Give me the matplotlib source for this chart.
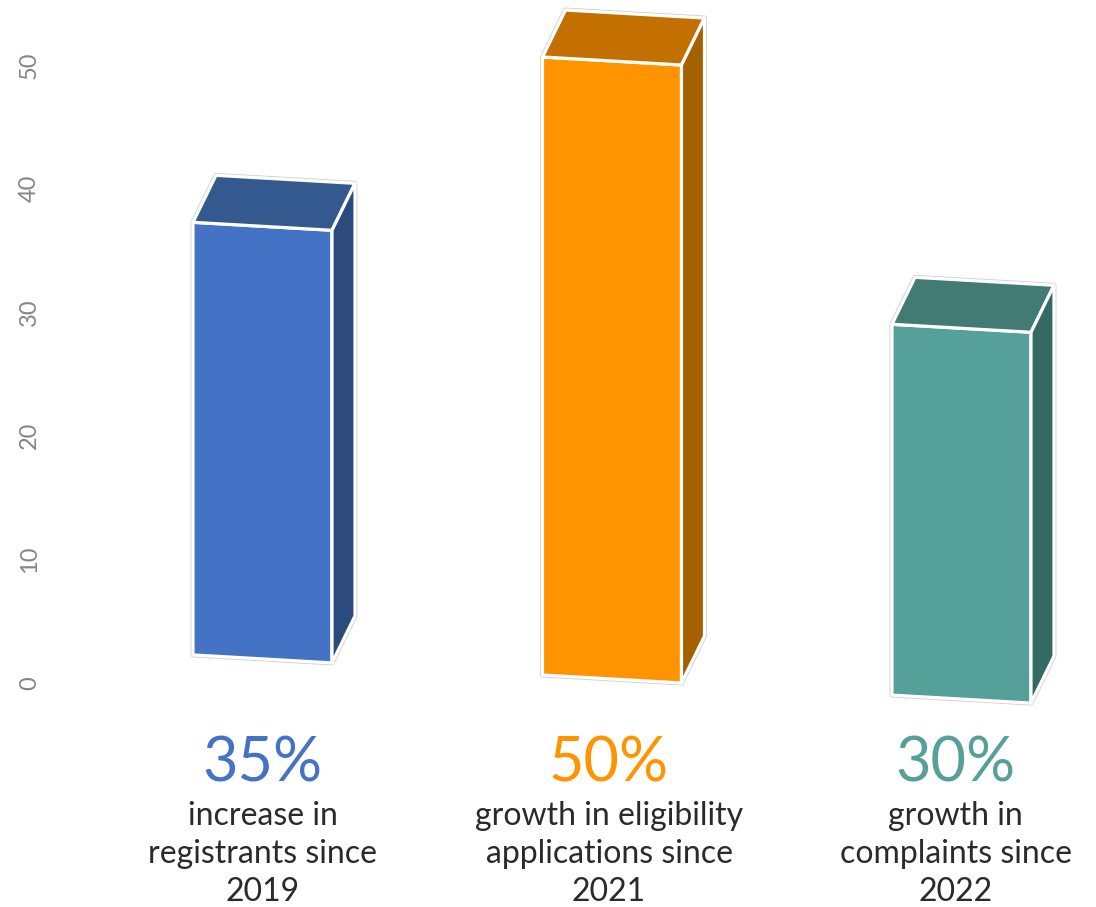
import matplotlib.pyplot as plt
from matplotlib.patches import Polygon

values = [35, 50, 30]
pct_labels = ["35%", "50%", "30%"]
descriptions = [
	"increase in\nregistrants since\n2019",
	"growth in eligibility\napplications since\n2021",
	"growth in\ncomplaints since\n2022",
]
front_colors = ["#4472C4", "#FF9400", "#55A099"]
top_colors = ["#33598F", "#C47000", "#417B74"]
side_colors = ["#2B4A7D", "#A56000", "#356A63"]
yticks = [0, 10, 20, 30, 40, 50]

# layout (x in pixels, y in value units)
PX_PER_UNIT = 12.36
ZERO_PX = 683
first_left = 193
spacing = 349.5
width = 139
depth_dx = 23
depth_dv = 3.8


def shear(x):
	return 3.17 - 0.00465 * x


def pt(x, v):
	return (x, v + shear(x))


def to_val(py):
	return (ZERO_PX - py) / PX_PER_UNIT


def main():
	fig = plt.figure(figsize=(10.96, 9.07), dpi=100)
	ax = fig.add_axes([0, 0, 1, 1])
	ax.set_xlim(0, 1096)
	ax.set_ylim(to_val(907), to_val(0))
	for s in ax.spines.values():
		s.set_visible(False)
	ax.set_xticks([])
	ax.set_yticks(yticks)
	ax.set_yticklabels([str(t) for t in yticks], rotation=90, va="center",
		fontfamily="Lato", fontsize=17, color="#858585")
	ax.tick_params(axis="y", length=0, pad=-40 * 72 / 100)

	for i, val in enumerate(values):
		xl = first_left + spacing * i
		xr = xl + width
		fbl = pt(xl, 0)
		fbr = pt(xr, 0)
		ftl = pt(xl, val)
		ftr = pt(xr, val)
		btl = (ftl[0] + depth_dx, ftl[1] + depth_dv)
		btr = (ftr[0] + depth_dx, ftr[1] + depth_dv)
		bbr = (fbr[0] + depth_dx, fbr[1] + depth_dv)

		outline = Polygon([fbl, fbr, bbr, btr, btl, ftl], closed=True,
			facecolor="none", edgecolor="#d2d2d2", linewidth=3.6, joinstyle="round", zorder=2)
		ax.add_patch(outline)
		faces = [
			([fbl, fbr, ftr, ftl], front_colors[i]),
			([ftl, ftr, btr, btl], top_colors[i]),
			([fbr, bbr, btr, ftr], side_colors[i]),
		]
		for verts, col in faces:
			ax.add_patch(Polygon(verts, closed=True, facecolor=col, edgecolor="white",
				linewidth=2.3, joinstyle="round", zorder=3))

		cx = (xl + xr) / 2 - 3 * i
		ax.text(cx, to_val(764), pct_labels[i], ha="center", va="center",
			fontfamily="Lato", fontsize=44, color=front_colors[i])
		ax.text(cx, to_val(801), descriptions[i], ha="center", va="top",
			fontfamily="Lato", fontsize=23, color="#2a2a2a", linespacing=1.33)

	fig.savefig("out.png", dpi=100)


if __name__ == "__main__":
	main()
